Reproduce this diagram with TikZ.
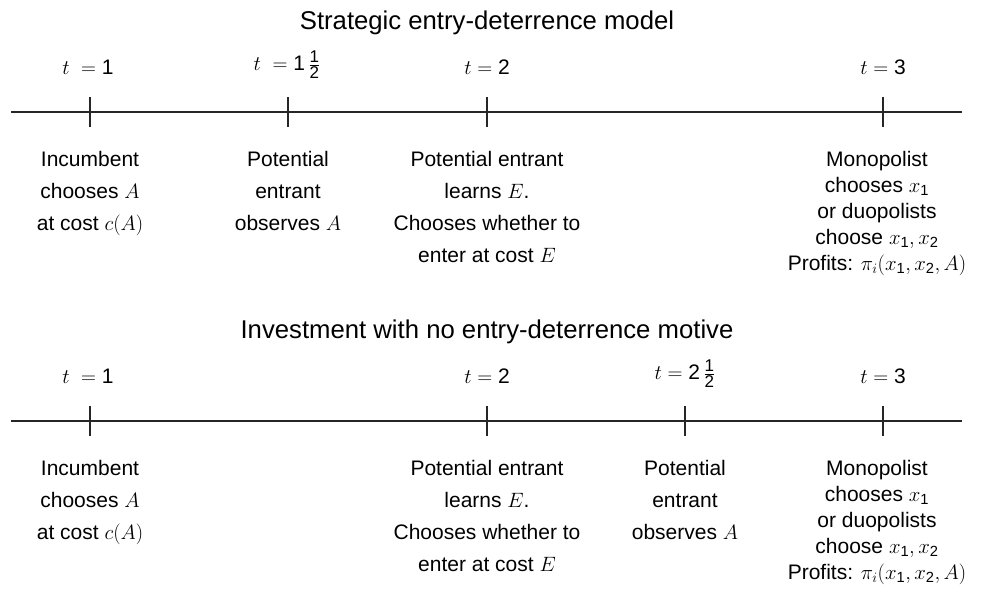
\documentclass[tikz,border=0pt]{standalone}
\usepackage{amsmath}
\usepackage{fontspec}
\setmainfont{Liberation Sans}
\newcommand{\dg}[1]{\text{#1}}
\newcommand{\fd}[1]{\mbox{\fontsize{17}{17}\selectfont #1}}
\newcommand{\half}{\tfrac{\fd{1}}{\fd{2}}}
\begin{document}
\begin{tikzpicture}[x=1pt,y=-1pt,
  txt/.style={font=\fontsize{21}{32}\selectfont, align=center, anchor=north, inner sep=0pt},
  txtm/.style={txt, font=\fontsize{21}{26}\selectfont},
  ttl/.style={font=\fontsize{25.7}{30}\selectfont, inner sep=0pt},
  tlab/.style={font=\fontsize{21}{25}\selectfont, inner sep=0pt},
  axis/.style={line width=1.1pt, black!85},
  tickline/.style={line width=1.1pt, black!85}]
\useasboundingbox (0,0) rectangle (994,593);
% ---------- top timeline ----------
\node[ttl] (title1) at (487,23) {Strategic entry-deterrence model};
\node[tlab] (t11) at (88,67) {$t\;=\dg{1}$};
\node[tlab] (t12) at (287,65) {$t\;=\dg{1}\,\half$};
\node[tlab] (t13) at (487,67) {$t=\dg{2}$};
\node[tlab] (t14) at (883,67) {$t=\dg{3}$};
\coordinate (L1s) at (11,112);
\coordinate (L1e) at (962,112);
\draw[axis] (L1s) -- (L1e);
\foreach \x/\n in {90/a,288/b,487/c,883/d}{
  \coordinate (T1\n u) at (\x,97);
  \coordinate (T1\n d) at (\x,127);
  \draw[tickline] (T1\n u) -- (T1\n d);
}
\node[txt] (a1) at (90,151) {Incumbent\\chooses $A$\\at cost $c(A)$};
\node[txt] (a2) at (288,151) {Potential\\entrant\\observes $A$};
\node[txt] (a3) at (487,151) {Potential entrant\\learns $E$.\\Chooses whether to\\enter at cost $E$};
\node[txtm] (a4) at (877,151) {Monopolist\\chooses $x_{\dg{1}}$\\or duopolists\\choose $x_{\dg{1}}, x_{\dg{2}}$\\Profits: $\pi_i(x_{\dg{1}}, x_{\dg{2}}, A)$};
% ---------- bottom timeline ----------
\node[ttl] (title2) at (487,332) {Investment with no entry-deterrence motive};
\node[tlab] (t21) at (88,376) {$t\;=\dg{1}$};
\node[tlab] (t22) at (487,376) {$t=\dg{2}$};
\node[tlab] (t23) at (685,374) {$t=\dg{2}\,\half$};
\node[tlab] (t24) at (883,376) {$t=\dg{3}$};
\coordinate (L2s) at (11,421);
\coordinate (L2e) at (962,421);
\draw[axis] (L2s) -- (L2e);
\foreach \x/\n in {90/a,487/b,685/c,883/d}{
  \coordinate (T2\n u) at (\x,406);
  \coordinate (T2\n d) at (\x,436);
  \draw[tickline] (T2\n u) -- (T2\n d);
}
\node[txt] (b1) at (90,460) {Incumbent\\chooses $A$\\at cost $c(A)$};
\node[txt] (b2) at (487,460) {Potential entrant\\learns $E$.\\Chooses whether to\\enter at cost $E$};
\node[txt] (b3) at (685,460) {Potential\\entrant\\observes $A$};
\node[txtm] (b4) at (877,460) {Monopolist\\chooses $x_{\dg{1}}$\\or duopolists\\choose $x_{\dg{1}}, x_{\dg{2}}$\\Profits: $\pi_i(x_{\dg{1}}, x_{\dg{2}}, A)$};
\end{tikzpicture}
\end{document}
